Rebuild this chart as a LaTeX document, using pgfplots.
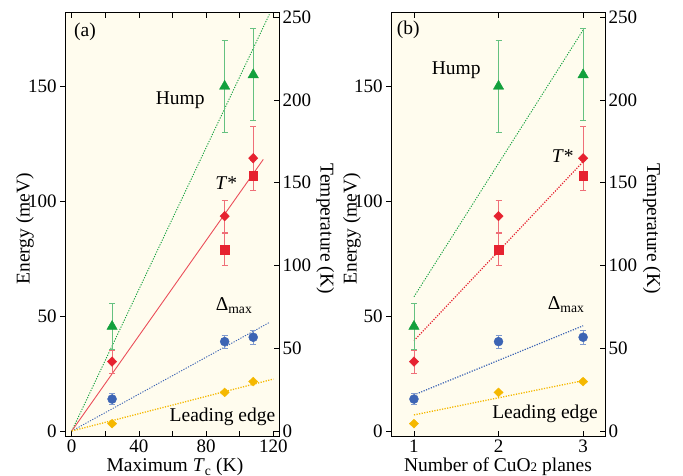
\documentclass[border=0pt]{standalone}
\usepackage{fontspec}
\setmainfont{Liberation Serif}
\usepackage{pgfplots}
\pgfplotsset{compat=1.18}
\definecolor{bgc}{HTML}{FFFCEE}
\definecolor{cgreen}{HTML}{12A03C}
\definecolor{cred}{HTML}{E62230}
\definecolor{cblue}{HTML}{3C64B4}
\definecolor{cyel}{HTML}{F5B800}
\newcommand{\lbl}{\fontsize{19.5bp}{22bp}\selectfont}
\pgfplotsset{
  base/.style={scale only axis, width=213.4bp, height=424.4bp, anchor=south west,
    /pgf/number format/assume math mode=true,
    tick label style={font=\fontsize{19bp}{22bp}\selectfont},
    label style={font=\lbl},
    major tick length=5.5bp, minor tick length=5.5bp,
    axis line style={line width=0.9bp},
    every tick/.style={line width=0.9bp, black},
  },
  lineA/.style={line width=0.9bp, dash pattern=on 1.2bp off 1.4bp},
  ebar/.style={error bars/.cd, y dir=both, y explicit,
    error bar style={line width=0.8bp, #1!65},
    error mark options={rotate=90, mark size=3bp, line width=0.8bp, #1!65}},
}
\begin{document}
\begin{tikzpicture}
% ---------------- panel (a) ----------------
\begin{axis}[base, at={(65.7bp,39.3bp)},
  xmin=-3.6, xmax=123.4, ymin=-2.48, ymax=182.2,
  xtick={0,40,80,120}, minor xtick={20,60,100},
  ytick={0,50,100,150}, ytick pos=left, xtick pos=both, xticklabel pos=lower,
  xtick align=inside, ytick align=outside,
  axis background/.style={fill=bgc},
  xlabel={Maximum \textit{T}\textsubscript{c} (K)}, ylabel={Energy (meV)},
  xlabel style={at={(axis description cs:0.512,-0.083)}, anchor=base},
  ylabel style={at={(axis description cs:-0.191,0.49)}, anchor=center},
  clip=false]
\addplot[cgreen, lineA] coordinates {(0,0) (117.6,181.3)};
\addplot[cred!80, line width=0.9bp] coordinates {(0,0) (114,118.2)};
\addplot[cblue, lineA] coordinates {(0,0) (117.3,47.1)};
\addplot[cyel, lineA, line width=1.3bp] coordinates {(0,0) (120,22.6)};
\addplot[cgreen, only marks, mark=triangle*, mark size=6bp, ebar=cgreen] coordinates {(24,45.5) +- (0,10) (91,150) +- (0,20) (108,155) +- (0,20)};
\addplot[cred, only marks, mark=square*, mark size=4.4bp, ebar=cred] coordinates {(91,79) +- (0,7) (108,111.1) +- (0,6.5)};
\addplot[cred, only marks, mark=diamond*, mark size=4.8bp, mark options={xscale=1.3}, ebar=cred] coordinates {(24,30.2) +- (0,5) (91,93.5) +- (0,7) (108,118.7) +- (0,14)};
\addplot[cblue, only marks, mark=*, mark size=4.5bp, ebar=cblue] coordinates {(24,13.9) +- (0,2.5) (91,38.9) +- (0,2.8) (108,40.8) +- (0,3)};
\addplot[cyel, only marks, mark=diamond*, mark size=4.4bp, mark options={xscale=1.4}] coordinates {(24,3.2) (91,16.8) (108,21.5)};
\node[font=\lbl] at (axis cs:7.9,173.8) {(a)};
\node[font=\lbl] at (axis cs:64.5,144) {Hump};
\node[font=\lbl] at (axis cs:92,107.8) {\textit{T}*};
\node[font=\lbl] at (axis cs:96.6,54.4) {Δ\textsubscript{max}};
\node[font=\lbl] at (axis cs:89.7,6.2) {Leading edge};
\end{axis}
\begin{axis}[base, at={(65.7bp,39.3bp)},
  xmin=-3.6, xmax=123.4, ymin=-3.44, ymax=253.0,
  axis x line=none, axis y line*=right, ytick={0,50,...,250}, tick align=inside,
  ylabel={Temperature (K)},
  ylabel style={at={(axis description cs:1.216,0.49)}, rotate=180, anchor=center}]
\end{axis}
% ---------------- panel (b) ----------------
\begin{axis}[base, at={(391.7bp,39.3bp)},
  xmin=0.737, xmax=3.26, ymin=-2.48, ymax=182.2,
  xtick={1,2,3},
  ytick={0,50,100,150}, ytick pos=left, xtick pos=both, xticklabel pos=lower,
  xtick align=inside, ytick align=outside,
  axis background/.style={fill=bgc},
  xlabel={Number of CuO{\fontsize{13bp}{14bp}\selectfont 2} planes}, ylabel={Energy (meV)},
  xlabel style={at={(axis description cs:0.498,-0.081)}, anchor=base},
  ylabel style={at={(axis description cs:-0.186,0.49)}, anchor=center},
  clip=false]
\addplot[cgreen, lineA] coordinates {(1,58.4) (3,174.5)};
\addplot[cred, lineA, line width=1.2bp] coordinates {(1,39.3) (3,117.2)};
\addplot[cblue, lineA, line width=1.2bp] coordinates {(1,15.7) (3,45.8)};
\addplot[cyel, lineA, line width=1.3bp] coordinates {(1,7.0) (3,21.9)};
\addplot[cgreen, only marks, mark=triangle*, mark size=6bp, ebar=cgreen] coordinates {(1,45.5) +- (0,10) (2,150) +- (0,20) (3,155) +- (0,20)};
\addplot[cred, only marks, mark=square*, mark size=4.4bp, ebar=cred] coordinates {(2,79) +- (0,7) (3,111.1) +- (0,6.5)};
\addplot[cred, only marks, mark=diamond*, mark size=4.8bp, mark options={xscale=1.3}, ebar=cred] coordinates {(1,30.2) +- (0,5) (2,93.5) +- (0,7) (3,118.7) +- (0,14)};
\addplot[cblue, only marks, mark=*, mark size=4.5bp, ebar=cblue] coordinates {(1,13.9) +- (0,2.5) (2,38.9) +- (0,2.8) (3,40.8) +- (0,3)};
\addplot[cyel, only marks, mark=diamond*, mark size=4.4bp, mark options={xscale=1.4}] coordinates {(1,3.2) (2,16.8) (3,21.5)};
\node[font=\lbl] at (axis cs:0.933,174.5) {(b)};
\node[font=\lbl] at (axis cs:1.50,157) {Hump};
\node[font=\lbl] at (axis cs:2.76,119.7) {\textit{T}*};
\node[font=\lbl] at (axis cs:2.80,54.8) {Δ\textsubscript{max}};
\node[font=\lbl] at (axis cs:2.55,7.3) {Leading edge};
\end{axis}
\begin{axis}[base, at={(391.7bp,39.3bp)},
  xmin=0.737, xmax=3.26, ymin=-3.44, ymax=253.0,
  axis x line=none, axis y line*=right, ytick={0,50,...,250}, tick align=inside,
  ylabel={Temperature (K)},
  ylabel style={at={(axis description cs:1.219,0.49)}, rotate=180, anchor=center}]
\end{axis}
\pgfresetboundingbox
\path (0,0) rectangle (683bp,476bp);
\end{tikzpicture}
\end{document}
